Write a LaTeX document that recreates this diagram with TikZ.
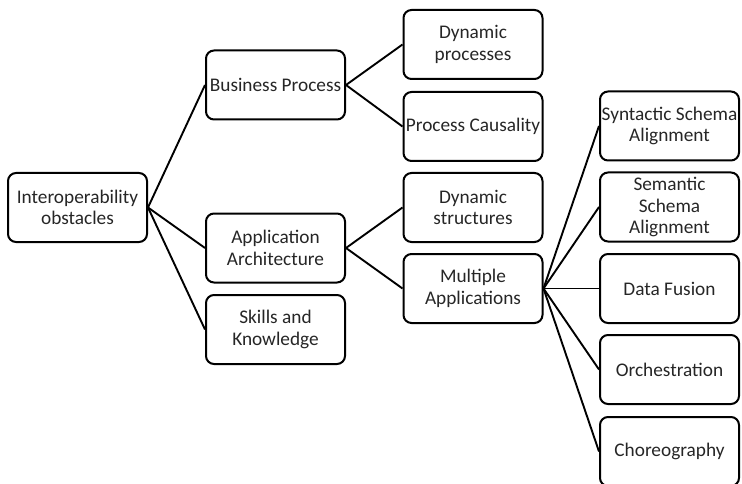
\documentclass[tikz,border=0pt]{standalone}
\usepackage{fontspec}
\setmainfont{Carlito}
\begin{document}
\begin{tikzpicture}[x=1pt,y=-1pt,
  box/.style={draw=black, line width=2pt, rounded corners=8pt, minimum width=139pt, minimum height=69pt, align=center, inner sep=1pt, text=black!85, font=\fontsize{19.3}{21.5}\selectfont},
  link/.style={line width=1.9pt, draw=black}]
\useasboundingbox (0,0) rectangle (742,484);
\node[box] (io) at (77.5,207.5) {Interoperability\\obstacles};
\node[box] (bp) at (275.5,85) {Business Process};
\node[box] (aa) at (275.5,248) {Application\\Architecture};
\node[box] (sk) at (275.5,329.5) {Skills and\\Knowledge};
\node[box] (dp) at (473,44.5) {Dynamic\\processes};
\node[box] (pc) at (473,126.5) {Process Causality};
\node[box] (ds) at (473,207.5) {Dynamic\\structures};
\node[box] (ma) at (473,288.5) {Multiple\\Applications};
\node[box] (syn) at (669.5,126) {Syntactic Schema\\Alignment};
\node[box] (sem) at (669.5,207) {Semantic\\Schema\\Alignment};
\node[box] (df) at (669.5,288.5) {Data Fusion};
\node[box] (orc) at (669.5,369.5) {Orchestration};
\node[box] (cho) at (669.5,451.5) {Choreography};
\foreach \t in {bp,aa,sk} \draw[link] (io.east) -- (\t.west);
\foreach \t in {dp,pc} \draw[link] (bp.east) -- (\t.west);
\foreach \t in {ds,ma} \draw[link] (aa.east) -- (\t.west);
\foreach \t in {syn,sem,df,orc,cho} \draw[link] (ma.east) -- (\t.west);
\end{tikzpicture}
\end{document}
